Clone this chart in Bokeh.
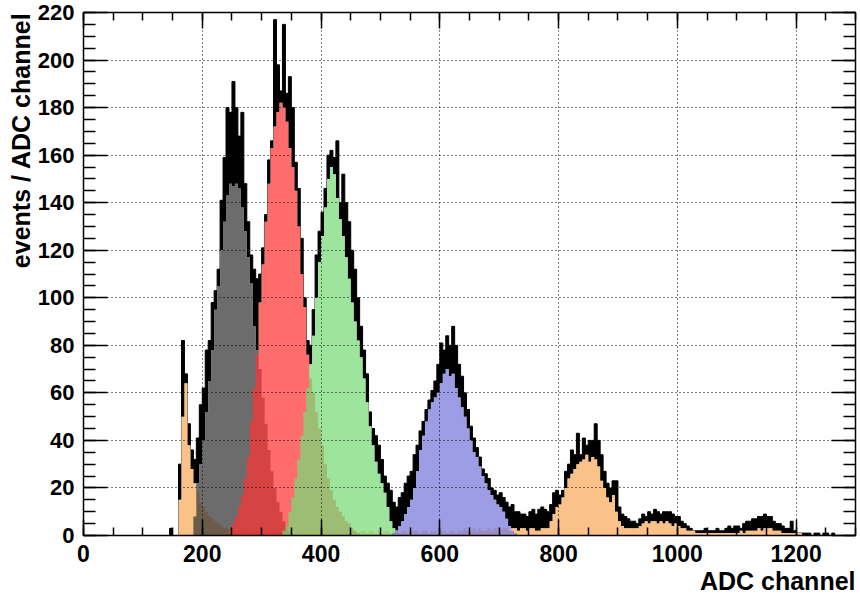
from bokeh.plotting import figure
from bokeh.models import LinearAxis, SingleIntervalTicker, Title, Range1d, Grid, CustomJSTickFormatter
from bokeh.embed import file_html
from bokeh.resources import INLINE

# ---------------- data (5-channel bins, value = counts of bin starting at lo + i*5) ----------------
bin_width = 5

total_lo = 140
total_counts = [
    0, 3, 0, 0, 30, 82, 68, 47, 36, 32, 41, 55, 62, 78, 82, 98, 103, 112, 141, 159,
    180, 178, 191, 180, 168, 178, 148, 132, 118, 112, 108, 110, 121, 135, 158, 166, 217, 198, 187, 215,
    186, 193, 180, 157, 146, 125, 100, 82, 80, 95, 118, 128, 136, 146, 160, 162, 159, 166, 140, 152,
    140, 132, 120, 112, 100, 88, 78, 68, 52, 45, 42, 38, 32, 25, 22, 19, 14, 12, 16, 18,
    22, 25, 27, 34, 38, 44, 48, 53, 57, 61, 65, 72, 81, 78, 84, 80, 88, 80, 72, 67,
    60, 53, 46, 41, 37, 33, 28, 26, 24, 20, 19, 17, 18, 16, 14, 12, 13, 10, 10, 9,
    9, 8, 10, 11, 9, 11, 12, 11, 10, 13, 18, 19, 17, 19, 27, 30, 36, 34, 43, 34,
    41, 38, 40, 40, 47, 40, 34, 27, 22, 20, 23, 23, 12, 9, 8, 7, 6, 6, 5, 7,
    9, 8, 10, 9, 11, 10, 9, 10, 10, 10, 9, 8, 8, 6, 5, 4, 3, 2, 2, 2,
    2, 3, 2, 2, 2, 3, 2, 2, 3, 4, 3, 4, 4, 3, 5, 6, 6, 7, 7, 8,
    8, 9, 8, 8, 6, 5, 5, 4, 3, 3, 6, 2, 1, 1, 1, 1, 1, 0, 1, 1,
    0, 1, 1, 0, 1,
]

orange_lo = 160
orange_counts = [
    15, 50, 64, 38, 28, 22, 18, 14, 12, 10, 8, 7, 6, 5, 4, 3, 3, 2, 3, 2,
    2, 2, 3, 2, 2, 1, 2, 2, 1, 2, 2, 1, 2, 2, 1, 2, 1, 2, 2, 1,
    2, 1, 2, 2, 1, 2, 1, 2, 2, 1, 2, 2, 1, 2, 1, 2, 2, 1, 2, 2,
    1, 2, 2, 1, 2, 2, 1, 2, 1, 2, 2, 1, 2, 2, 1, 2, 2, 1, 2, 2,
    2, 1, 2, 2, 1, 2, 2, 1, 2, 2, 1, 2, 2, 1, 2, 2, 3, 2, 2, 3,
    2, 3, 2, 2, 3, 2, 3, 3, 2, 3, 3, 2, 3, 3, 2, 3, 3, 2, 3, 3,
    2, 2, 3, 3, 3, 6, 9, 12, 13, 16, 20, 24, 26, 28, 30, 31, 32, 34, 31, 33,
    32, 29, 23, 20, 16, 14, 17, 10, 6, 4, 3, 3, 3, 3, 3, 4, 5, 6, 5, 6,
    6, 5, 6, 5, 6, 5, 4, 5, 4, 3, 3, 2, 2, 2, 1, 1, 1, 1, 1, 1,
    1, 1, 1, 1, 1, 1, 1, 1, 1, 2, 1, 2, 2, 2, 2, 3, 2, 3, 3, 3,
    2, 2, 2, 1, 1, 1, 1, 1, 1, 1, 0, 0, 0, 0, 0, 0, 0, 0, 0, 0, 0,
]

gray_lo = 185
gray_counts = [8, 22, 30, 40, 52, 65, 78, 95, 105, 120, 132, 143, 148, 147, 148, 146, 138,
               128, 117, 106, 88, 78, 70, 58, 47, 36, 27, 20, 14, 10, 6, 4, 2]

red_lo = 245
red_counts = [2, 5, 8, 12, 17, 24, 33, 48, 62, 76, 98, 114, 132, 148, 163, 172, 178, 182, 180,
              174, 163, 155, 145, 130, 110, 96, 76, 66, 60, 52, 45, 38, 30, 24, 19, 15, 12,
              10, 8, 6, 5, 3, 2, 1]

green_lo = 335
green_counts = [2, 4, 10, 16, 24, 32, 42, 52, 62, 72, 84, 100, 115, 126, 138, 150, 155, 152,
                142, 133, 126, 117, 108, 98, 90, 82, 75, 66, 56, 46, 38, 31, 26, 22, 18, 12,
                6, 3, 1]

blue_lo = 520
blue_counts = [1, 2, 4, 6, 9, 12, 15, 20, 27, 36, 42, 48, 53, 56, 58, 60, 64, 68, 70, 67, 68,
               62, 58, 54, 50, 45, 40, 35, 33, 29, 25, 22, 19, 17, 15, 13, 12, 10, 7, 4, 2, 1]

x_title = "ADC channel"
y_title = "events / ADC channel"


def step_outline(lo, counts):
    xs = [lo]
    ys = [0]
    for i, c in enumerate(counts):
        x0 = lo + i * bin_width
        xs += [x0, x0 + bin_width]
        ys += [c, c]
    xs.append(lo + len(counts) * bin_width)
    ys.append(0)
    return xs, ys


FONT = "Liberation Sans"

p = figure(width=860, height=597, output_backend="svg", toolbar_location=None,
           x_range=Range1d(0, 1300), y_range=Range1d(0, 220),
           x_axis_type=None, y_axis_type=None,
           min_border_left=83, min_border_right=5, min_border_top=12, min_border_bottom=62)
p.background_fill_color = "white"
p.border_fill_color = "white"
p.outline_line_color = "black"
p.outline_line_width = 1

xt = SingleIntervalTicker(interval=200, num_minor_ticks=4)
yt = SingleIntervalTicker(interval=20, num_minor_ticks=4)

# total histogram (black)
tx, ty = step_outline(total_lo, total_counts)
p.patch(tx, ty, fill_color="black", line_color="black", line_width=1)

comps = [
    (orange_lo, orange_counts, "#f8a95b"),
    (gray_lo, gray_counts, "#333333"),
    (red_lo, red_counts, "#ff3333"),
    (green_lo, green_counts, "#77db77"),
    (blue_lo, blue_counts, "#7777db"),
]
for lo, counts, col in comps:
    cx, cy = step_outline(lo, counts)
    p.patch(cx, cy, fill_color="white", line_color=None)
for lo, counts, col in comps:
    cx, cy = step_outline(lo, counts)
    p.patch(cx, cy, fill_color=col, fill_alpha=0.72, line_color=None)

# grids (dotted, drawn on top like ROOT)
for dim, tk in ((0, xt), (1, yt)):
    g = Grid(dimension=dim, ticker=tk, grid_line_color="black", grid_line_dash="1 3",
             grid_line_width=1, level="overlay")
    p.add_layout(g)


def style_axis(ax, major_in, minor_in, show_labels):
    ax.major_tick_in = major_in
    ax.major_tick_out = 0
    ax.minor_tick_in = minor_in
    ax.minor_tick_out = 0
    ax.axis_line_width = 1.5
    ax.major_tick_line_width = 1.5
    ax.minor_tick_line_width = 1.5
    ax.axis_line_color = "black"
    if show_labels:
        ax.major_label_text_font = FONT
        ax.major_label_text_font_style = "bold"
        ax.major_label_text_font_size = "22px"
        ax.major_label_text_color = "black"
    else:
        ax.formatter = CustomJSTickFormatter(code="return '';")
        ax.major_label_standoff = 0


bottom = LinearAxis(ticker=xt)
style_axis(bottom, 16, 8, True)
bottom.major_label_text_font_size = "23px"
bottom.major_label_standoff = 9
p.add_layout(bottom, "below")

left = LinearAxis(ticker=yt)
style_axis(left, 24, 12, True)
left.major_label_standoff = 9
p.add_layout(left, "left")

top = LinearAxis(ticker=xt)
style_axis(top, 16, 8, False)
p.add_layout(top, "above")

right = LinearAxis(ticker=yt)
style_axis(right, 24, 12, False)
p.add_layout(right, "right")

xt_title = Title(text=x_title, align="right", text_font=FONT, text_font_style="bold",
                 text_font_size="25px", text_color="black", standoff=0)
p.add_layout(xt_title, "below")

yt_title = Title(text=y_title, align="right", text_font=FONT, text_font_style="bold",
                 text_font_size="25px", text_color="black", standoff=0)
p.add_layout(yt_title, "left")

open("out.html", "w").write(file_html(p, INLINE))
